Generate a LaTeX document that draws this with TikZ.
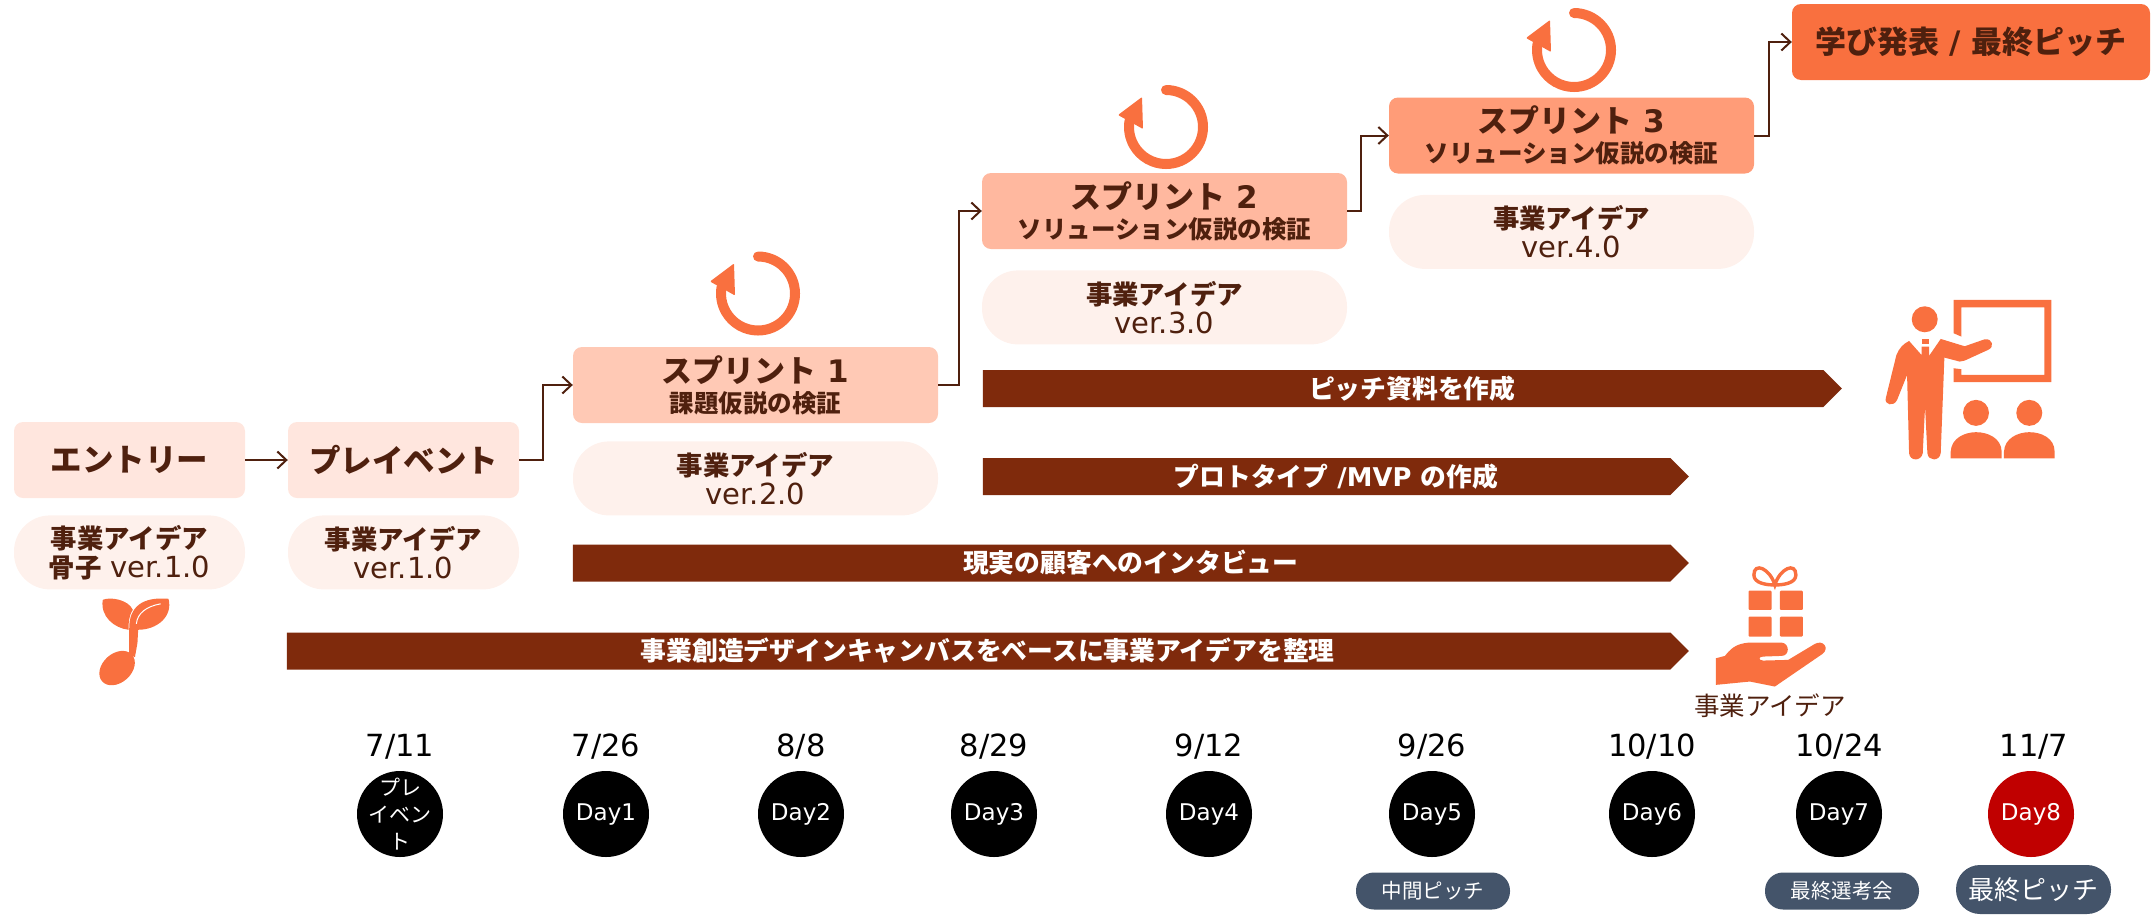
\documentclass[tikz,border=0pt]{standalone}
\usepackage{fontspec}
\setmainfont{DejaVu Sans}
\newfontfamily\jp{Noto Sans CJK JP}
\newfontfamily\jpm[Scale=0.91]{Noto Sans CJK JP}
\usetikzlibrary{positioning, shapes.symbols, arrows.meta}

\definecolor{inkbrown}{HTML}{4F200E}
\definecolor{barbrown}{HTML}{7F2A0C}
\definecolor{iconorange}{HTML}{F9703F}
\definecolor{entryfill}{HTML}{FFE6DE}
\definecolor{pillfill}{HTML}{FEF1EC}
\definecolor{firstfill}{HTML}{FFC9B5}
\definecolor{secondfill}{HTML}{FFB89F}
\definecolor{thirdfill}{HTML}{FF9C78}
\definecolor{tagfill}{HTML}{44546A}
\definecolor{lastday}{HTML}{C00000}

\begin{document}
\begin{tikzpicture}[
    x=1pt, y=-1pt,
    % Styles
    box/.style={
        rectangle,
        rounded corners=9pt,
        inner sep=0pt,
        text=inkbrown,
        align=center
    },
    entrybox/.style={
        box,
        fill=entryfill,
        minimum width=231pt,
        minimum height=76pt,
        font=\jp\bfseries\fontsize{31.5}{34}\selectfont
    },
    sprint/.style={
        box,
        minimum width=365pt,
        minimum height=76pt,
        font=\bfseries\fontsize{31}{32}\selectfont
    },
    pill/.style={
        rectangle,
        rounded corners=36pt,
        inner sep=0pt,
        fill=pillfill,
        text=inkbrown,
        align=center,
        minimum height=74pt,
        font=\fontsize{29}{29}\selectfont
    },
    flow/.style={
        draw=inkbrown,
        line width=2pt,
        -{Straight Barb[length=9pt,width=17pt,line width=2pt]}
    },
    bar/.style={
        signal,
        signal to=east,
        signal pointer angle=90,
        fill=barbrown,
        inner sep=0pt,
        text=white,
        minimum height=37pt,
        execute at begin node=\hspace*{18.5pt},
        font=\bfseries\fontsize{25.8}{28}\selectfont
    },
    day/.style={
        circle,
        fill=black,
        inner sep=0pt,
        minimum size=86pt,
        text=white,
        align=center,
        font=\fontsize{23}{26}\selectfont
    },
    date/.style={
        inner sep=0pt,
        text=black,
        font=\fontsize{30.5}{32}\selectfont
    },
    tag/.style={
        rectangle,
        rounded corners=18pt,
        inner sep=0pt,
        fill=tagfill,
        text=white,
        minimum width=154pt,
        minimum height=37pt,
        font=\jp\fontsize{20.5}{24}\selectfont
    },
    cycle/.pic={
        \draw[iconorange, line width=10pt, line cap=round] (0,-37) arc[start angle=90, end angle=-190, radius=37pt];
        \fill[iconorange, rounded corners=1pt] (-48,-12) -- (-24,-30) -- (-23,2) -- cycle;
    }
]
    \useasboundingbox (0,0) rectangle (2155,914);

    % Steps
    \node[entrybox] (entry) at (129.5,460) {エントリー};
    \node[entrybox] (preevent) at (403.5,460) {プレイベント};
    \node[sprint, fill=firstfill] (sprint1) at (755.5,385) {{\jp スプリント} 1\\[-2pt]{\jp\fontsize{24.5}{26}\selectfont 課題仮説の検証}};
    \node[sprint, fill=secondfill] (sprint2) at (1164.5,211) {{\jp スプリント} 2\\[-2pt]{\jp\fontsize{24.5}{26}\selectfont ソリューション仮説の検証}};
    \node[sprint, fill=thirdfill] (sprint3) at (1571.5,135.5) {{\jp スプリント} 3\\[-2pt]{\jp\fontsize{24.5}{26}\selectfont ソリューション仮説の検証}};
    \node[box, fill=iconorange, minimum width=358pt, minimum height=76pt, font=\bfseries\fontsize{31}{32}\selectfont] (final) at (1971,42) {{\jp 学び発表} / {\jp 最終ピッチ}};

    % Ideas
    \node[pill, minimum width=231pt, below=17pt of entry] (idea0) {{\jpm\bfseries 事業アイデア}\\{\jpm\bfseries 骨子} ver.1.0};
    \node[pill, minimum width=231pt, below=17pt of preevent] (idea1) {{\jpm\bfseries 事業アイデア}\\ver.1.0};
    \node[pill, minimum width=365pt, below=18pt of sprint1] (idea2) {{\jpm\bfseries 事業アイデア}\\ver.2.0};
    \node[pill, minimum width=365pt, below=21pt of sprint2] (idea3) {{\jpm\bfseries 事業アイデア}\\ver.3.0};
    \node[pill, minimum width=365pt, below=21pt of sprint3] (idea4) {{\jpm\bfseries 事業アイデア}\\ver.4.0};

    % Bars
    \node[bar, minimum width=859pt] (pitchbar) at (1403,388.5) {{\jp ピッチ資料を作成}};
    \node[bar, minimum width=706pt] (protobar) at (1326.5,476.5) {{\jp プロトタイプ} /MVP {\jp の作成}};
    \node[bar, minimum width=1116pt] (interviewbar) at (1121.5,563) {{\jp 現実の顧客へのインタビュー}};
    \node[bar, minimum width=1402pt] (canvasbar) at (978.5,651) {{\jp 事業創造デザインキャンバスをベースに事業アイデアを整理}};

    % Days
    \node[day, label={[align=center, text=white, inner sep=0pt, font=\jp\fontsize{21}{27}\selectfont]center:プレ\\イベン\\ト}] (day0) at (400,814) {};
    \node[day] (day1) at (606,814) {Day1};
    \node[day] (day2) at (801,814) {Day2};
    \node[day] (day3) at (994,814) {Day3};
    \node[day] (day4) at (1209,814) {Day4};
    \node[day] (day5) at (1432,814) {Day5};
    \node[day] (day6) at (1652,814) {Day6};
    \node[day] (day7) at (1839,814) {Day7};
    \node[day, fill=lastday] (day8) at (2031,814) {Day8};

    \node[date, above=11.5pt of day0] (date0) {7/11};
    \node[date, above=11.5pt of day1] (date1) {7/26};
    \node[date, above=11.5pt of day2] (date2) {8/8};
    \node[date, above=11.5pt of day3] (date3) {8/29};
    \node[date, above=11.5pt of day4] (date4) {9/12};
    \node[date, above=11.5pt of day5] (date5) {9/26};
    \node[date, above=11.5pt of day6] (date6) {10/10};
    \node[date, above=11.5pt of day7] (date7) {10/24};
    \node[date, above=11.5pt of day8, xshift=3pt] (date8) {11/7};

    \node[tag] (tag5) at (1433,891) {中間ピッチ};
    \node[tag] (tag7) at (1842,891) {最終選考会};
    \node[tag, rounded corners=24pt, minimum width=155pt, minimum height=49pt, font=\jp\fontsize{26}{30}\selectfont] (tag8) at (2033.5,889.5) {最終ピッチ};

    \node[text=inkbrown, inner sep=0pt, font=\jp\fontsize{25.5}{28}\selectfont] (giftlabel) at (1770,706) {事業アイデア};

    % Paths
    \draw[flow] (entry) -- (preevent);
    \draw[flow] (preevent.east) -- ++(24,0) |- (sprint1.west);
    \draw[flow] (sprint1.east) -- ++(21,0) |- (sprint2.west);
    \draw[flow] (sprint2.east) -- ++(14,0) |- (sprint3.west);
    \draw[flow] (sprint3.east) -- ++(15,0) |- (final.west);

    % Cycles
    \pic at (758,293.5) {cycle};
    \pic at (1166,127) {cycle};
    \pic at (1574,50) {cycle};

    % Sprout
    \begin{scope}[shift={(0,400)}, x=0.357pt, y=-0.333pt, iconorange]
        \fill (288,600) .. controls (310,590) and (360,600) .. (372,630) .. controls (360,650) and (360,670) .. (360,690) .. controls (320,685) and (280,650) .. (288,600) -- cycle;
        \fill (362,690) .. controls (360,620) and (400,590) .. (472,597) .. controls (485,650) and (440,690) .. (387,690) -- (385,730) -- (378,772) -- (362,765) -- cycle;
        \fill[rotate around={42:(328,805)}] (328,805) ellipse [x radius=20pt, y radius=14.5pt];
        \draw[white, line width=1pt] (382,672) .. controls (385,640) and (410,620) .. (450,612);
    \end{scope}

    % Gift
    \begin{scope}[shift={(1650,550)}, x=0.333pt, y=-0.333pt, iconorange]
        \draw[line width=3.4pt] (375,105) .. controls (360,55) and (312,35) .. (312,75) .. controls (312,100) and (350,105) .. (375,105) .. controls (400,105) and (438,100) .. (438,75) .. controls (438,35) and (390,55) .. (375,105) -- cycle;
        \fill[rounded corners=1pt] (296,122) rectangle (365,180);
        \fill[rounded corners=1pt] (390,122) rectangle (459,180);
        \fill[rounded corners=1pt] (296,200) rectangle (365,260);
        \fill[rounded corners=1pt] (390,200) rectangle (459,260);
        \fill (198,325) -- (225,318) .. controls (240,300) and (255,280) .. (300,278) -- (395,278) .. controls (420,280) and (420,318) .. (395,318) -- (340,320) .. controls (325,320) and (325,332) .. (340,332) -- (415,330) -- (495,282) .. controls (520,268) and (540,295) .. (518,312) -- (375,410) -- (300,395) -- (198,405) -- cycle;
    \end{scope}

    % Teacher
    \begin{scope}[shift={(1650,270)}, x=0.333pt, y=-0.333pt, iconorange]
        \fill (912,190) -- (912,90) -- (1205,90) -- (1205,337) -- (912,337) -- (912,295) -- (935,298) -- (935,315) -- (1184,315) -- (1184,112) -- (935,112) -- (935,200) -- cycle;
        \fill (825,148) circle[radius=13pt];
        \fill (816,207) rectangle (838,222);
        \fill (778,213) -- (816,256) -- (816,230) -- (838,230) -- (838,258) -- (873,207) -- (945,229) -- (1005,208) .. controls (1030,205) and (1035,232) .. (1015,240) -- (945,272) -- (930,275) -- (884,263) -- (873,550) .. controls (870,575) and (835,575) .. (833,550) -- (826,410) -- (819,550) .. controls (815,575) and (780,575) .. (778,550) -- (772,315) -- (742,390) .. controls (732,412) and (703,405) .. (708,385) -- (740,255) .. controls (748,235) and (760,222) .. (778,213) -- cycle;
        \fill (979,429) circle[radius=13pt];
        \fill (1139,429) circle[radius=13pt];
        \fill (903,566) -- (903,545) .. controls (905,505) and (945,487) .. (979,487) .. controls (1015,487) and (1055,505) .. (1056,545) -- (1056,566) -- cycle;
        \fill (1063,566) -- (1063,545) .. controls (1065,505) and (1105,487) .. (1139,487) .. controls (1175,487) and (1215,505) .. (1215,545) -- (1215,566) -- cycle;
    \end{scope}
\end{tikzpicture}
\end{document}
